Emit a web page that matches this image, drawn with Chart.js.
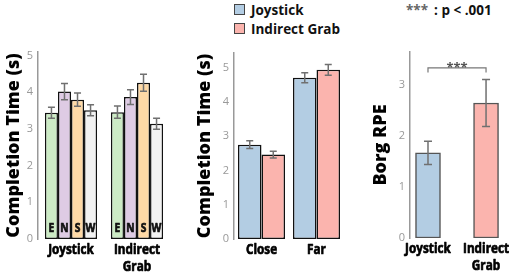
<!DOCTYPE html>
<html>
<head>
<meta charset="utf-8">
<script src="https://cdn.jsdelivr.net/npm/chart.js@4/dist/chart.umd.min.js"></script>
<style>
    html, body { margin: 0; padding: 0; background: #fff; }
    body { width: 511px; height: 278px; position: relative; overflow: hidden; font-family: "Open Sans", sans-serif; }
    .panel { position: absolute; top: 0; height: 278px; }
    .leg { position: absolute; font-weight: bold; font-size: 13.5px; line-height: 16px; color: #111; white-space: nowrap; }
    .sw { display: inline-block; width: 9px; height: 9px; border: 1px solid #444; margin-right: 6px; vertical-align: 0px; }
    .stars { color: #666; margin-right: 6px; }
</style>
</head>
<body>
<div class="leg" style="left:234px; top:2px;"><span class="sw" style="background:#b3cde3"></span>Joystick</div>
<div class="leg" style="left:234px; top:21px;"><span class="sw" style="background:#fbb4ae"></span>Indirect Grab</div>
<div class="leg" style="left:406px; top:2px;"><span class="stars">***</span>: p &lt; .001</div>

<div class="panel" style="left:0px; width:172px;"><canvas id="dirChart"></canvas></div>
<div class="panel" style="left:191px; width:155px;"><canvas id="distChart"></canvas></div>
<div class="panel" style="left:367px; width:144px;"><canvas id="rpeChart"></canvas></div>

<script>
// ---- data ----
const techniqueLabels = ['Joystick', ['Indirect', 'Grab']];
const directionLabels = ['E', 'N', 'S', 'W'];
const directionColors = ['#ccebc5', '#decbe4', '#fed9a6', '#f2f2f2'];

// completion time per direction: [Joystick, Indirect Grab]
const timeEast = [3.44, 3.46];
const timeNorth = [4.02, 3.87];
const timeSouth = [3.80, 4.26];
const timeWest = [3.51, 3.14];
const errEast = [0.15, 0.17];
const errNorth = [0.22, 0.20];
const errSouth = [0.18, 0.23];
const errWest = [0.15, 0.15];

// completion time per distance
const distanceLabels = ['Close', 'Far'];
const joystickDist = [2.75, 4.70];
const grabDist = [2.46, 4.93];
const joystickDistErr = [0.11, 0.145];
const grabDistErr = [0.10, 0.155];

// Borg RPE
const rpeValues = [1.67, 2.65];
const rpeErr = [0.23, 0.46];

const joystickColor = '#b3cde3';
const grabColor = '#fbb4ae';

const boldFamily = '"Open Sans", "DejaVu Sans", sans-serif';
const titleFont = { family: boldFamily, size: 18, weight: 800 };
const tickFont = { family: '"Open Sans", sans-serif', size: 11 };

// Error bars drawn from the y scale
const errorBars = {
    id: 'errorBars',
    afterDatasetsDraw(chart, args, opts) {
        const ctx = chart.ctx;
        const y = chart.scales.y;
        ctx.save();
        ctx.strokeStyle = opts.color || '#707070';
        ctx.lineWidth = opts.width || 1.5;
        chart.data.datasets.forEach((ds, i) => {
            if (!ds.errors) return;
            const meta = chart.getDatasetMeta(i);
            meta.data.forEach((bar, j) => {
                const d = ds.data[j];
                const v = typeof d === 'object' ? d.y : d;
                const top = y.getPixelForValue(v + ds.errors[j]);
                const bot = y.getPixelForValue(v - ds.errors[j]);
                const cap = opts.cap || 3.5;
                ctx.beginPath();
                ctx.moveTo(bar.x, top); ctx.lineTo(bar.x, bot);
                ctx.moveTo(bar.x - cap, top); ctx.lineTo(bar.x + cap, top);
                ctx.moveTo(bar.x - cap, bot); ctx.lineTo(bar.x + cap, bot);
                ctx.stroke();
            });
        });
        ctx.restore();
    }
};

// Narrow heavy text, like the condensed face of the original figure
function narrowText(ctx, text, x, y, size, squeeze, color) {
    ctx.save();
    ctx.translate(x, y);
    ctx.scale(squeeze, 1);
    ctx.font = 'bold ' + size + 'px ' + boldFamily;
    ctx.textAlign = 'center';
    ctx.textBaseline = 'alphabetic';
    ctx.fillStyle = color;
    ctx.strokeStyle = color;
    ctx.lineWidth = 0.7;
    ctx.lineJoin = 'round';
    ctx.fillText(text, 0, 0);
    ctx.strokeText(text, 0, 0);
    ctx.restore();
}

// Direction letters at the foot of each bar
const barLetters = {
    id: 'barLetters',
    afterDatasetsDraw(chart) {
        const ctx = chart.ctx;
        chart.data.datasets.forEach((ds, i) => {
            chart.getDatasetMeta(i).data.forEach(bar => {
                narrowText(ctx, ds.label, bar.x, bar.base - 7, 12, 0.85, '#111');
            });
        });
    }
};

// Category labels under the x axis
const narrowLabels = {
    id: 'narrowLabels',
    afterDraw(chart, args, opts) {
        const ctx = chart.ctx;
        const x = chart.scales.x;
        x.ticks.forEach((t, i) => {
            const lines = [].concat(opts.labels[i]);
            const px = x.getPixelForValue(t.value);
            lines.forEach((line, k) => {
                narrowText(ctx, line, px, chart.chartArea.bottom + 15 + k * 16.5, 14, 0.84, '#000');
            });
        });
    }
};

// Significance bracket
const sigBracket = {
    id: 'sigBracket',
    afterDatasetsDraw(chart, args, opts) {
        const ctx = chart.ctx;
        const x = chart.scales.x, y = chart.scales.y;
        const x1 = x.getPixelForValue(opts.from), x2 = x.getPixelForValue(opts.to);
        const yt = y.getPixelForValue(opts.level), yb = y.getPixelForValue(opts.level - opts.drop);
        ctx.save();
        ctx.strokeStyle = '#777';
        ctx.lineWidth = 1.2;
        ctx.beginPath();
        ctx.moveTo(x1, yb); ctx.lineTo(x1, yt); ctx.lineTo(x2, yt); ctx.lineTo(x2, yb);
        ctx.stroke();
        ctx.fillStyle = '#555';
        ctx.font = 'bold 13px "Open Sans", sans-serif';
        ctx.textAlign = 'center';
        ctx.textBaseline = 'alphabetic';
        ctx.fillText(opts.text, (x1 + x2) / 2, yt + 4);
        ctx.restore();
    }
};

// whole-number ticks from 0 up to the axis maximum
function intTicks(scale) {
    const ticks = [];
    for (let v = 0; v <= Math.floor(scale.max); v++) ticks.push({ value: v });
    scale.ticks = ticks;
}

function yAxis(max, title, width) {
    return {
        min: 0,
        max: max,
        afterBuildTicks: intTicks,
        afterFit: s => { s.width = width; },
        grid: { display: false, drawTicks: false, tickLength: 0 },
        border: { display: true, color: '#999', width: 1.5 },
        ticks: { color: '#999', font: tickFont, padding: 5 },
        title: { display: true, text: title, color: '#000', font: titleFont, padding: { top: 3, bottom: 0 } }
    };
}

function xAxis(height) {
    return {
        afterFit: s => { s.height = height; },
        grid: { display: false },
        border: { display: false },
        ticks: { display: false, autoSkip: false }
    };
}

const baseOptions = {
    responsive: false,
    animation: false,
    devicePixelRatio: 1
};

document.addEventListener('DOMContentLoaded', function() {
    initDirectionChart();
    initDistanceChart();
    initRpeChart();
});

function sizeCanvas(id, w, h) {
    const c = document.getElementById(id);
    c.width = w; c.height = h;
    c.style.width = w + 'px'; c.style.height = h + 'px';
    return c.getContext('2d');
}

function initDirectionChart() {
    const ctx = sizeCanvas('dirChart', 172, 278);
    const values = [timeEast, timeNorth, timeSouth, timeWest];
    const errors = [errEast, errNorth, errSouth, errWest];
    new Chart(ctx, {
        type: 'bar',
        data: {
            labels: techniqueLabels,
            datasets: directionLabels.map((d, i) => ({
                label: d,
                data: values[i],
                errors: errors[i],
                backgroundColor: directionColors[i],
                borderColor: '#111',
                borderWidth: 1.5,
                borderSkipped: false,
                categoryPercentage: 0.79,
                barPercentage: 1
            }))
        },
        options: Object.assign({}, baseOptions, {
            layout: { padding: { top: 52, right: 2, bottom: 0, left: 0 } },
            scales: { x: xAxis(39), y: yAxis(5.1, 'Completion Time (s)', 38) },
            plugins: {
                legend: { display: false }, tooltip: { enabled: false },
                errorBars: { cap: 3.5 },
                narrowLabels: { labels: techniqueLabels }
            }
        }),
        plugins: [errorBars, barLetters, narrowLabels]
    });
}

function initDistanceChart() {
    const ctx = sizeCanvas('distChart', 155, 278);
    new Chart(ctx, {
        type: 'bar',
        data: {
            labels: distanceLabels,
            datasets: [
                { label: 'Joystick', data: joystickDist, errors: joystickDistErr, backgroundColor: joystickColor },
                { label: 'Indirect Grab', data: grabDist, errors: grabDistErr, backgroundColor: grabColor }
            ].map(ds => Object.assign(ds, {
                borderColor: '#111', borderWidth: 1.5, borderSkipped: false,
                categoryPercentage: 0.855, barPercentage: 1
            }))
        },
        options: Object.assign({}, baseOptions, {
            layout: { padding: { top: 53, right: 2, bottom: 0, left: 0 } },
            scales: { x: xAxis(39), y: yAxis(5.42, 'Completion Time (s)', 43) },
            plugins: {
                legend: { display: false }, tooltip: { enabled: false },
                errorBars: { cap: 3.5 },
                narrowLabels: { labels: distanceLabels }
            }
        }),
        plugins: [errorBars, narrowLabels]
    });
}

function initRpeChart() {
    const ctx = sizeCanvas('rpeChart', 144, 278);
    const x = xAxis(40);
    x.type = 'linear';
    x.offset = false;
    x.min = -0.31;
    x.max = 1.43;
    x.afterBuildTicks = s => { s.ticks = [{ value: 0 }, { value: 1 }]; };
    new Chart(ctx, {
        type: 'bar',
        data: {
            datasets: [{
                label: 'Borg RPE',
                data: rpeValues.map((v, i) => ({ x: i, y: v })),
                errors: rpeErr,
                backgroundColor: [joystickColor, grabColor],
                borderColor: '#555',
                borderWidth: 1.5,
                borderSkipped: false,
                barThickness: 25
            }]
        },
        options: Object.assign({}, baseOptions, {
            layout: { padding: { top: 52, right: 0, bottom: 0, left: 0 } },
            scales: { x: x, y: yAxis(3.65, 'Borg RPE', 43) },
            plugins: {
                legend: { display: false }, tooltip: { enabled: false },
                errorBars: { cap: 4 },
                sigBracket: { from: 0, to: 1, level: 3.34, drop: 0.09, text: '***' },
                narrowLabels: { labels: techniqueLabels }
            }
        }),
        plugins: [errorBars, sigBracket, narrowLabels]
    });
}
</script>
</body>
</html>
